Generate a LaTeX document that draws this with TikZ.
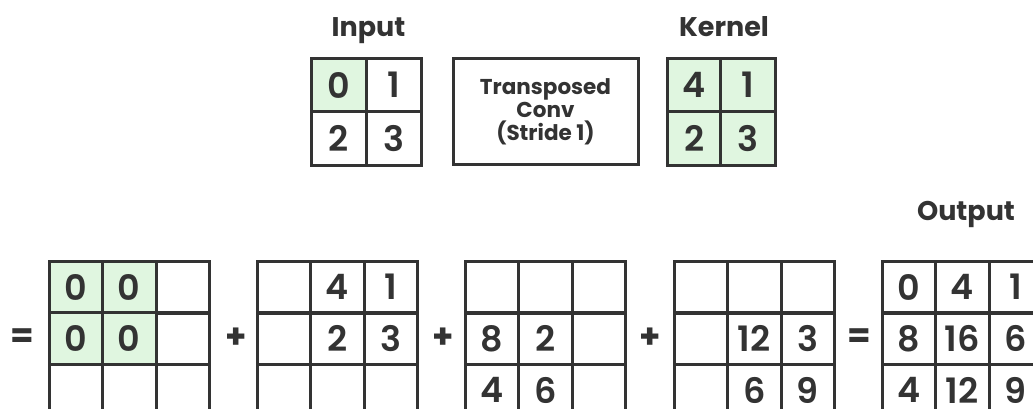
\documentclass[tikz,border=0pt]{standalone}
\usepackage{fontspec}
\setmainfont{Poppins}
\newfontfamily\medfont{Poppins SemiBold}
\definecolor{ln}{HTML}{333333}
\definecolor{gr}{HTML}{E0F6E0}
\newcommand\tgrid[5]{%
  \foreach [count=\c] \t/\s in {#3}
    \node[\s] (#1-1\c) at ({#2+(\c-0.5)*53.5},287) {\t};
  \foreach [count=\c] \t/\s in {#4}
    \node[\s] (#1-2\c) at ({#2+(\c-0.5)*53.5},338.5) {\t};
  \foreach [count=\c] \t/\s in {#5}
    \node[\s] (#1-3\c) at ({#2+(\c-0.5)*53.5},390) {\t};
}
\begin{document}
\begin{tikzpicture}[x=1pt,y=-1pt,
  cell/.style={draw=ln,line width=3pt,minimum width=53.5pt,minimum height=52pt,
    inner sep=0pt,font=\medfont\fontsize{35}{35}\selectfont,text=ln},
  gcell/.style={cell,fill=gr},
  tcell/.style={cell,minimum width=54.5pt,minimum height=53.5pt},
  tgcell/.style={tcell,fill=gr},
  lab/.style={font=\bfseries\fontsize{27}{27}\selectfont,text=ln,inner sep=0pt,anchor=base},
  op/.style={font=\bfseries\fontsize{34}{34}\selectfont,text=ln,inner sep=0pt},
  conv/.style={draw=ln,line width=3pt,minimum width=185pt,minimum height=105pt,
    align=center,font=\bfseries\fontsize{21.5}{23}\selectfont,text=ln}]
\useasboundingbox (0,0) rectangle (1033,409);
\clip (0,0) rectangle (1033,409);
% top row
\node[lab] (inlab) at (368.5,37) {Input};
\node[lab] (klab) at (724,37) {Kernel};
\node[tgcell] (in11) at (339,85) {0};
\node[tcell] (in12) at (394,85) {1};
\node[tcell] (in21) at (339,138.5) {2};
\node[tcell] (in22) at (394,138.5) {3};
\node[conv] (tc) at (545.5,111.5) {Transposed\\Conv\\(Stride 1)};
\node[tgcell] (k11) at (694.5,85) {4};
\node[tgcell] (k12) at (748,85) {1};
\node[tgcell] (k21) at (694.5,138.5) {2};
\node[tgcell] (k22) at (748,138.5) {3};
% bottom row
\node[lab] (outlab) at (966,220) {Output};
\node[op] (eq1) at (22,338.5) {=};
\tgrid{ga}{49}{0/gcell,0/gcell,/cell}{0/gcell,0/gcell,/cell}{/cell,/cell,/cell}
\node[op] (pl1) at (236,338.5) {+};
\tgrid{gb}{257}{/cell,4/cell,1/cell}{/cell,2/cell,3/cell}{/cell,/cell,/cell}
\node[op] (pl2) at (443,338.5) {+};
\tgrid{gc}{465}{/cell,/cell,/cell}{8/cell,2/cell,/cell}{4/cell,6/cell,/cell}
\node[op] (pl3) at (650,338.5) {+};
\tgrid{gd}{674}{/cell,/cell,/cell}{/cell,12/cell,3/cell}{/cell,6/cell,9/cell}
\node[op] (eq2) at (859,338.5) {=};
\tgrid{ge}{882}{0/cell,4/cell,1/cell}{8/cell,16/cell,6/cell}{4/cell,12/cell,9/cell}
\end{tikzpicture}
\end{document}
